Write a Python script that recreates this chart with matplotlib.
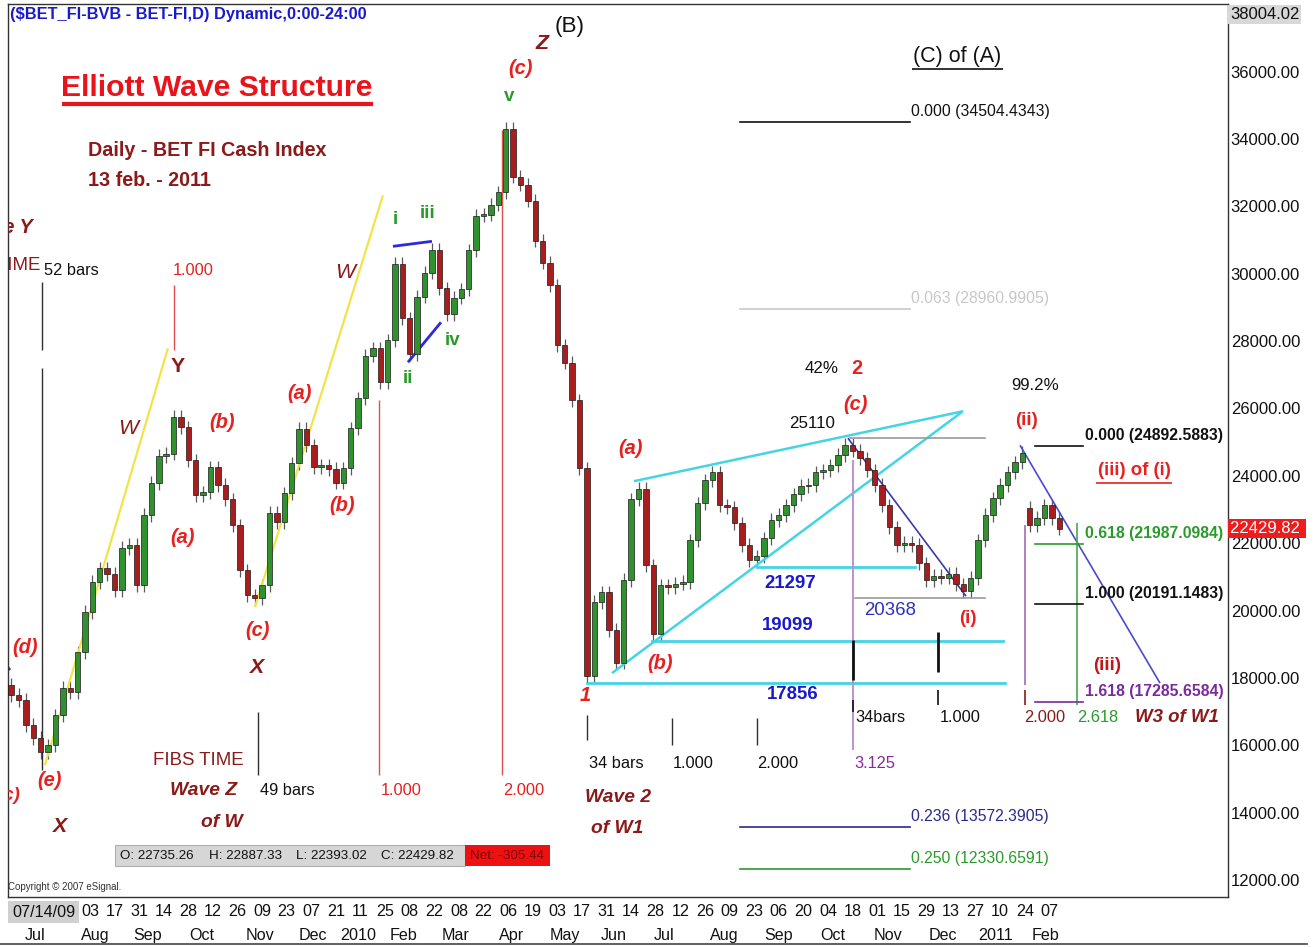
import numpy as np
import matplotlib.pyplot as plt
from matplotlib.patches import Rectangle
from matplotlib.lines import Line2D
from matplotlib.transforms import blended_transform_factory

REG = ['Liberation Sans', 'DejaVu Sans']
plt.rcParams['font.family'] = REG
S = 0.84   # the reference uses a narrow face; shrink the regular one to match widths
SW = 0.9   # short wave labels

# ---------------- data (closes sampled every 3 trading days) ----------------
closes = [17490, 17340, 16600, 16210, 15800, 16000, 16890, 17700, 17580, 18760,
          19950, 20840, 21250, 21080, 20600, 21850, 21940, 20750, 22830, 23780,
          24580, 24660, 25750, 25440, 24460, 23420, 23510, 24250, 23720, 23300,
          22530, 21190, 20450, 20360, 20750, 22890, 22620, 23480, 24370, 25400,
          24900, 24250, 24310, 24200, 23800, 24220, 25410, 26300, 27570, 27780,
          26770, 28020, 30300, 28670, 27600, 29320, 30030, 30700, 29560, 28800,
          29290, 29530, 30690, 31720, 31750, 32050, 32410, 34300, 32880, 32640,
          32170, 30980, 30330, 29650, 27870, 27360, 26240, 24220, 18060, 20250,
          20540, 19420, 18450, 20900, 23300, 23620, 21340, 19300, 20750, 20700,
          20800, 20840, 22080, 23180, 23860, 24100, 23120, 23060, 22590, 21940,
          21500, 21610, 22140, 22680, 22830, 23120, 23450, 23690, 23720, 24100,
          24160, 24310, 24610, 24910, 24750, 24520, 24160, 23720, 23120, 22470,
          21940, 22000, 21940, 21400, 20900, 21020, 20980, 21080, 20780, 20570,
          20960, 22080, 22830, 23330, 23720, 24100, 24400, 24690, 22530, 22740,
          23120, 22740, 22430]
first_open = 17800
gap_opens = {138: 23050}     # gap down after (ii)
bar0, step = -32, 3          # bar index of first candle (0 = 03 Aug 2009)
wick = 200

day_labels = ['03', '17', '31', '14', '28', '12', '26', '09', '23', '07', '21', '11',
              '25', '08', '22', '08', '22', '06', '19', '03', '17', '31', '14', '28',
              '12', '26', '09', '23', '06', '20', '04', '18', '01', '15', '29', '13',
              '27', '10', '24', '07']
day_pos = list(range(0, 400, 10))
month_labels = ['Jul', 'Aug', 'Sep', 'Oct', 'Nov', 'Dec', '2010', 'Feb', 'Mar', 'Apr',
                'May', 'Jun', 'Jul', 'Aug', 'Sep', 'Oct', 'Nov', 'Dec', '2011', 'Feb']
month_pos = [-22.4, 2, 23.6, 45.5, 69, 90.7, 109, 127.6, 148.8, 171.5,
             193, 213, 233.3, 258, 280, 302, 324.4, 346.7, 368, 388.6]

price_ticks = list(range(12000, 36001, 2000))
top_price = 38004.02
last_close = 22429.82

fib_top_levels = [34504.4343, 28960.9905, 13572.3905, 12330.6591]
fib_top_ratios = ['0.000', '0.063', '0.236', '0.250']
fib_right_levels = [24892.5883, 21987.0984, 20191.1483, 17285.6584]
fib_right_ratios = ['0.000', '0.618', '1.000', '1.618']
support_levels = [21297, 19099, 17856]
ohlc = {'O': 22735.26, 'H': 22887.33, 'L': 22393.02, 'C': 22429.82}
net = -305.44

# ---------------- figure ----------------
W, H = 1314, 947
fig = plt.figure(figsize=(W / 100, H / 100), dpi=100)
ax = fig.add_axes([8 / W, 1 - 897 / H, 1220 / W, 893 / H])
ax.set_xlim(-33.3, 462.6)
ax.set_ylim(11496, top_price)


def bx(px):   # pixel x -> bar index
    return (px - 90) / 2.46


def py(pyx):  # pixel y -> price
    return 12000 + (880 - pyx) * 29.67


# candles
c = np.array(closes, float)
o = np.concatenate([[first_open], c[:-1]])
for i, v in gap_opens.items():
    o[i] = v
xs = bar0 + step * np.arange(len(c))
lo_b = np.minimum(o, c)
hi_b = np.maximum(o, c)
ax.vlines(xs, lo_b - wick, hi_b + wick, color='#5a5a5a', lw=0.9, zorder=2)
cols = ['#2f922f' if cc >= oo else '#a81e1e' for oo, cc in zip(o, c)]
ax.bar(xs, np.maximum(hi_b - lo_b, 40), bottom=lo_b, width=2.2, color=cols,
       edgecolor='#1a1a1a', linewidth=0.5, zorder=3)


def seg(x1, y1, x2, y2, color, lw=1.2, **kw):
    ax.plot([bx(x1), bx(x2)], [py(y1), py(y2)], color=color, lw=lw,
            solid_capstyle='butt', **kw)


def hline(price, x1, x2, color, lw=1.2):
    ax.plot([bx(x1), bx(x2)], [price, price], color=color, lw=lw)


# yellow channel lines
seg(45, 765, 168, 348, '#f2e34a', 1.6)
seg(255, 607, 383, 195, '#f2e34a', 1.6)
# blue triangle
seg(393, 246, 432, 241, '#2a2ae0', 2)
seg(408, 362, 441, 322, '#2a2ae0', 2)
seg(5, 663, 10, 670, '#2a2ae0', 2)
# cyan wedge
seg(634, 481, 963, 411, '#44d4e4', 1.8)
seg(612, 673, 963, 411, '#44d4e4', 1.8)
for lvl, x1, x2 in zip(support_levels, [757, 652, 587], [915, 1003, 1005]):
    hline(lvl, x1, x2, '#44d4e4', 2)
# gray levels
hline(25110, 850, 985, '#9a9a9a', 1.2)
hline(20368, 855, 985, '#9a9a9a', 1.2)
# blue diagonals
seg(848, 438, 966, 596, '#3a3aa8', 1.2)
seg(1020, 445, 1160, 683, '#4a4ad0', 1.2)

# vertical time lines
seg(42, 282, 42, 350, '#303030', 1.0)
seg(42, 368, 42, 770, '#303030', 1.0)
seg(174, 285, 174, 350, '#e05050', 1.0)
seg(379, 400, 379, 775, '#e05050', 1.0)
seg(502, 130, 502, 775, '#e05050', 1.0)
seg(258, 712, 258, 775, '#303030', 1.0)
seg(587, 715, 587, 740, '#303030', 1.0)
seg(672, 718, 672, 745, '#303030', 1.0)
seg(757, 718, 757, 745, '#303030', 1.0)
seg(853, 460, 853, 750, '#c090d0', 1.4)
seg(853, 640, 853, 680, '#111111', 2.0)
seg(853, 700, 853, 712, '#111111', 1.2)
seg(938, 632, 938, 672, '#111111', 2.0)
seg(938, 690, 938, 705, '#111111', 1.2)
seg(1025, 525, 1025, 685, '#b080c0', 1.4)
seg(1025, 690, 1025, 705, '#8b1a1a', 1.2)
seg(1077, 523, 1077, 705, '#4aa84a', 1.2)

# fib lines
top_cols = ['#111111', '#c8c8c8', '#2a2a8a', '#2a9a2a']
for lvl, r, col in zip(fib_top_levels, fib_top_ratios, top_cols):
    hline(lvl, 740, 910, col, 1.2)
    ax.text(bx(911), lvl + 90, f'{r} ({lvl:.4f})', color=col, fontsize=13.5 * S,
            ha='left', va='bottom')
right_cols = ['#111111', '#2a9a2a', '#111111', '#7a2a9a']
for lvl, r, col in zip(fib_right_levels, fib_right_ratios, right_cols):
    hline(lvl, 1035, 1083, col, 1.2)
    ax.text(bx(1085), lvl + 90, f'{r} ({lvl:.4f})', color=col, fontsize=13.5 * S,
            fontweight='bold', ha='left', va='bottom')

# ---------------- annotations ----------------
R, DR, G, BK = '#e8201f', '#8b1a1a', '#2a9a2a', '#111111'
wave_labels = [
    # x, y, text, color, size, weight, style
    (25, 647, '(d)', R, 16, 'bold', 'italic'),
    (50, 780, '(e)', R, 16, 'bold', 'italic'),
    (183, 537, '(a)', R, 16, 'bold', 'italic'),
    (222, 422, '(b)', R, 16, 'bold', 'italic'),
    (258, 630, '(c)', R, 16, 'bold', 'italic'),
    (300, 393, '(a)', R, 16, 'bold', 'italic'),
    (342, 505, '(b)', R, 16, 'bold', 'italic'),
    (521, 68, '(c)', R, 16, 'bold', 'italic'),
    (631, 448, '(a)', R, 16, 'bold', 'italic'),
    (660, 663, '(b)', R, 16, 'bold', 'italic'),
    (855, 404, '(c)', R, 16, 'bold', 'italic'),
    (585, 695, '1', R, 16, 'bold', 'italic'),
    (857, 368, '2', R, 16, 'bold', 'normal'),
    (968, 618, '(i)', R, 15, 'bold', 'normal'),
    (1027, 420, '(ii)', R, 15, 'bold', 'normal'),
    (1107, 665, '(iii)', '#c01818', 15, 'bold', 'normal'),
    (178, 366, 'Y', DR, 17, 'bold', 'normal'),
    (128, 428, 'W', DR, 17, 'normal', 'italic'),
    (345, 272, 'W', DR, 17, 'normal', 'italic'),
    (257, 667, 'X', DR, 17, 'bold', 'italic'),
    (60, 826, 'X', DR, 17, 'bold', 'italic'),
    (542, 43, 'Z', DR, 17, 'bold', 'italic'),
    (570, 26, '(B)', BK, 18, 'normal', 'normal'),
    (395, 219, 'i', G, 15, 'bold', 'normal'),
    (428, 213, 'iii', G, 15, 'bold', 'normal'),
    (408, 378, 'ii', G, 15, 'bold', 'normal'),
    (453, 340, 'iv', G, 15, 'bold', 'normal'),
    (509, 96, 'v', G, 15, 'bold', 'normal'),
]
for x, y, s, col, size, wt, st in wave_labels:
    ax.text(bx(x), py(y), s, color=col, fontsize=size * SW, fontweight=wt,
            fontstyle=st, ha='center', va='center', zorder=6)

labels = [
    (204, 790, 'Wave Z', DR, 16.5, 'bold', 'italic'),
    (222, 822, 'of W', DR, 16.5, 'bold', 'italic'),
    (618, 797, 'Wave 2', DR, 16.5, 'bold', 'italic'),
    (617, 828, 'of W1', DR, 16.5, 'bold', 'italic'),
    (1177, 717, 'W3 of W1', DR, 16, 'bold', 'italic'),
    (198, 760, 'FIBS TIME', DR, 16, 'normal', 'normal'),
    (1045, 717, '2.000', DR, 14, 'normal', 'normal'),
    (693, 763, '1.000', BK, 14, 'normal', 'normal'),
    (778, 763, '2.000', BK, 14, 'normal', 'normal'),
    (960, 717, '1.000', BK, 14, 'normal', 'normal'),
    (822, 368, '42%', BK, 14.5, 'normal', 'normal'),
    (1035, 385, '99.2%', BK, 14.5, 'normal', 'normal'),
    (812, 423, '25110', BK, 14.5, 'normal', 'normal'),
    (193, 270, '1.000', R, 14, 'normal', 'normal'),
    (401, 790, '1.000', R, 14, 'normal', 'normal'),
    (524, 790, '2.000', R, 14, 'normal', 'normal'),
    (1098, 717, '2.618', G, 14, 'normal', 'normal'),
    (875, 763, '3.125', '#8a2a9a', 14, 'normal', 'normal'),
    (790, 583, '21297', '#1a1acc', 16, 'bold', 'normal'),
    (788, 625, '19099', '#1a1acc', 16, 'bold', 'normal'),
    (793, 694, '17856', '#1a1acc', 16, 'bold', 'normal'),
    (890, 610, '20368', '#3030c0', 16, 'normal', 'normal'),
]
for x, y, s, col, size, wt, st in labels:
    ax.text(bx(x), py(y), s, color=col, fontsize=size * S, fontweight=wt,
            fontstyle=st, ha='center', va='center', zorder=6)

left_labels = [
    (42, 270, '52 bars'), (258, 790, '49 bars'), (587, 763, '34 bars'),
    (853, 717, '34bars'),
]
for x, y, s in left_labels:
    ax.text(bx(x) + 0.8, py(y), s, color=BK, fontsize=14 * S, ha='left',
            va='center', zorder=6)

# texts cut by the left border of the chart
for x, y, s, wt, st, size in [(33, 227, 'Wave Y', 'bold', 'italic', 17),
                              (41, 265, 'TIME', 'normal', 'normal', 16),
                              (20, 795, '(c)', 'bold', 'italic', 16)]:
    ax.text(bx(x), py(y), s, color=DR if s != '(c)' else R, fontsize=size * S,
            fontweight=wt, fontstyle=st, ha='right', va='center',
            clip_on=True, clip_box=ax.bbox)

# titles
ax.text(bx(10), py(14), '($BET_FI-BVB - BET-FI,D) Dynamic,0:00-24:00',
        color='#1a1acc', fontsize=11.8, fontweight='bold', ha='left', va='center')
ax.text(bx(217), py(88), 'Elliott Wave Structure', color='#e8131b',
        fontsize=21.7, fontweight='bold', ha='center', va='center')
seg(62, 104, 373, 104, '#e8131b', 3)
ax.text(bx(88), py(150), 'Daily - BET FI Cash Index', color=DR, fontsize=14.2,
        fontweight='bold', ha='left', va='center')
ax.text(bx(88), py(180), '13 feb. - 2011', color=DR, fontsize=14.2,
        fontweight='bold', ha='left', va='center')
ax.text(bx(957), py(56), '(C) of (A)', color=BK, fontsize=15.5, ha='center',
        va='center')
seg(912, 69, 1003, 69, BK, 1.2)
ax.text(bx(1134), py(470), '(iii) of (i)', color='#e8201f', fontsize=16 * S,
        fontweight='bold', ha='center', va='center')
seg(1096, 483, 1172, 483, '#e8201f', 1.2)

# OHLC strip
ax.add_patch(Rectangle((bx(115), py(866)), bx(465) - bx(115), py(845) - py(866),
                       facecolor='#d6d6d6', edgecolor='#b0b0b0', lw=0.8, zorder=5))
ax.add_patch(Rectangle((bx(465), py(866)), bx(550) - bx(465), py(845) - py(866),
                       facecolor='#ee1111', edgecolor='none', zorder=5))
for (k, v), x in zip(ohlc.items(), [120, 209, 296, 381]):
    ax.text(bx(x), py(856), f'{k}: {v:.2f}', color=BK, fontsize=9.6, ha='left',
            va='center', zorder=6)
ax.text(bx(470), py(856), f'Net: {net:.2f}', color='#7a0a0a', fontsize=9.6,
        ha='left', va='center', zorder=6)
ax.text(bx(8), py(887), 'Copyright \u00a9 2007 eSignal.', color='#333333',
        fontsize=7, ha='left', va='center')

# ---------------- axes styling ----------------
for sp in ax.spines.values():
    sp.set_color('#333333')
    sp.set_linewidth(1.0)
ax.yaxis.tick_right()
ax.set_yticks(price_ticks)
ax.set_yticklabels([f'{v:.2f}' for v in price_ticks])
ax.tick_params(axis='y', length=0, pad=2, labelsize=12, labelcolor='#111111')
ytrans = blended_transform_factory(ax.transAxes, ax.transData)
ax.text(1.0015, last_close, f'{last_close:.2f} ', transform=ytrans, color='white',
        fontsize=12, ha='left', va='center', zorder=10,
        bbox=dict(facecolor='#ee1c1c', edgecolor='none', pad=1.5))
ax.text(1.0015, py(14), f'{top_price:.2f}', transform=ytrans, color='#111111',
        fontsize=12, ha='left', va='center', zorder=10,
        bbox=dict(facecolor='#d8d8d8', edgecolor='none', pad=1.5))

ax.set_xticks(day_pos)
ax.set_xticklabels(day_labels)
ax.tick_params(axis='x', length=0, pad=5, labelsize=11.6, labelcolor='#111111')
for lab in ax.get_xticklabels():
    lab.set_fontweight('medium')
xtrans = ax.get_xaxis_transform()
for m, p in zip(month_labels, month_pos):
    ax.text(p, -(935 - 897) / 893, m, transform=xtrans, fontsize=11.6,
            color='#111111', ha='center', va='center')
ax.text(bx(12), -(912 - 897) / 893, '07/14/09', transform=xtrans, fontsize=11.6,
        color='#111111', ha='left', va='center', zorder=10,
        bbox=dict(facecolor='#d0d0d0', edgecolor='none', pad=2.5))
fig.add_artist(Line2D([0, 0.995], [1 - 944 / H, 1 - 944 / H], color='#444444',
                      lw=1.2))

fig.savefig('out.png', dpi=100)
